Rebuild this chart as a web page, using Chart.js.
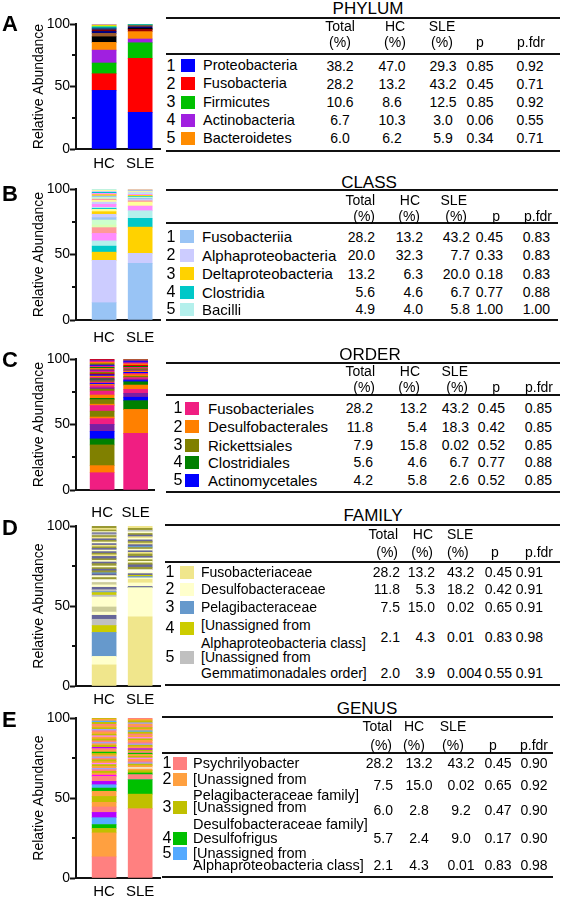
<!DOCTYPE html>
<html><head><meta charset="utf-8">
<script src="https://cdn.jsdelivr.net/npm/chart.js@4.4.1/dist/chart.umd.min.js"></script>
<style>
html,body{margin:0;padding:0;background:#fff;}
body{width:563px;height:900px;position:relative;overflow:hidden;font-family:"Liberation Sans",Arial,Helvetica,sans-serif;color:#000;}
.t{position:absolute;white-space:nowrap;line-height:1;}
.hl{position:absolute;height:2px;background:#111;}
.sq{position:absolute;width:14px;height:13px;}
canvas{position:absolute;left:0;}
</style></head><body>
<script>
// ---------------- DATA ----------------
const groups = ["HC", "SLE"];
const yTicks = [0, 25, 50, 75, 100];
const yMajorTicks = [0, 50, 100];
const minorTickValues = [25, 75];
const panelLetters = ["A", "B", "C", "D", "E"];
const levelTitles = ["PHYLUM", "CLASS", "ORDER", "FAMILY", "GENUS"];
const headRow1 = ["Total", "HC", "SLE", "", ""];
const headRow2 = ["(%)", "(%)", "(%)", "p", "p.fdr"];

// A - phylum
const phylumNames = ["Proteobacteria", "Fusobacteria", "Firmicutes", "Actinobacteria", "Bacteroidetes"];
const phylumTotal = ["38.2", "28.2", "10.6", "6.7", "6.0"];
const phylumHC = ["47.0", "13.2", "8.6", "10.3", "6.2"];
const phylumSLE = ["29.3", "43.2", "12.5", "3.0", "5.9"];
const phylumP = ["0.85", "0.45", "0.85", "0.06", "0.34"];
const phylumPfdr = ["0.92", "0.71", "0.92", "0.55", "0.71"];
const phylumColors = ["#0000ff", "#ff0000", "#00c000", "#a020e0", "#ff8c00"];
const phylumOtherHC = [4.5, 2.7, 1.6, 1.2, 1.0, 0.8, 0.6, 0.6, 0.6, 0.5, 0.6];
const phylumOtherHCColors = ["#000000", "#9c5a28", "#00007f", "#7f0000", "#1e3c8c", "#008080", "#00bfff", "#7fff00", "#ffd700", "#ff69b4", "#90ee90"];
const phylumOtherSLE = [1.8, 0.8, 1.2, 1.0, 0.5, 0.3, 0.3, 0.2];
const phylumOtherSLEColors = ["#990000", "#000000", "#00007f", "#9c5a28", "#008080", "#00bfff", "#7fff00", "#ffd700"];

// B - class
const classNames = ["Fusobacteriia", "Alphaproteobacteria", "Deltaproteobacteria", "Clostridia", "Bacilli"];
const classTotal = ["28.2", "20.0", "13.2", "5.6", "4.9"];
const classHC = ["13.2", "32.3", "6.3", "4.6", "4.0"];
const classSLE = ["43.2", "7.7", "20.0", "6.7", "5.8"];
const classP = ["0.45", "0.33", "0.18", "0.77", "1.00"];
const classPfdr = ["0.83", "0.83", "0.83", "0.88", "1.00"];
const classColors = ["#99c4f5", "#ccccff", "#ffd200", "#00c8c8", "#b4f0ec"];
const classOtherHC = [5.7, 4.4, 2.0, 3.8, 1.8, 2.6, 2.0, 1.8, 0.7, 0.8, 2.3, 1.7, 1.3, 1.0, 1.2, 1.2, 1.0, 1.0, 0.8, 0.8, 0.8, 0.8];
const classOtherHCColors = ["#ff8cff", "#ff9999", "#d9ffb3", "#ccffcc", "#99c4f5", "#ccccff", "#ffd200", "#ffff99", "#00c8c8", "#b4f0ec", "#ff8cff", "#ccccff", "#ffff99", "#ff9999", "#ccffcc", "#99c4f5", "#ffd200", "#ff8cff", "#00c8c8", "#ccccff", "#ffff99", "#b4f0ec"];
const classOtherSLE = [3.6, 3.0, 1.0, 1.0, 1.0, 0.8, 0.5, 0.8, 0.8, 0.7, 0.7, 0.8, 0.7, 0.6, 0.6];
const classOtherSLEColors = ["#ff8cff", "#ffff99", "#ff9999", "#ccccff", "#99c4f5", "#ccffcc", "#00c8c8", "#ffd200", "#ff8cff", "#b4f0ec", "#ccccff", "#ffff99", "#99c4f5", "#ff9999", "#ccffcc"];

// C - order
const orderNames = ["Fusobacteriales", "Desulfobacterales", "Rickettsiales", "Clostridiales", "Actinomycetales"];
const orderTotal = ["28.2", "11.8", "7.9", "5.6", "4.2"];
const orderHC = ["13.2", "5.4", "15.8", "4.6", "5.8"];
const orderSLE = ["43.2", "18.3", "0.02", "6.7", "2.6"];
const orderP = ["0.45", "0.42", "0.52", "0.77", "0.52"];
const orderPfdr = ["0.85", "0.85", "0.85", "0.88", "0.85"];
const orderColors = ["#f01e82", "#ff8000", "#808000", "#008000", "#0000ff"];
const orderOtherHC = [5.3, 4.4, 1.2, 4.5, 4.3, 1.0, 3.5, 1.0, 2.5, 3.0, 1.5, 1.0, 1.6, 1.0, 0.8, 1.0, 1.0, 0.8, 0.8, 1.0, 1.0, 1.0, 0.8, 1.0, 1.0, 1.0, 1.0, 0.8, 1.0, 0.8, 1.0, 1.0, 1.0, 0.8, 0.8];
const orderOtherHCColors = ["#7a1fa2", "#f01e82", "#ff8000", "#808000", "#f01e82", "#ff8000", "#808000", "#008000", "#ff8000", "#f01e82", "#808000", "#7a1fa2", "#f01e82", "#ff8000", "#0000ff", "#f01e82", "#808000", "#7a1fa2", "#008000", "#f01e82", "#ff8000", "#0000ff", "#e00000", "#808000", "#f01e82", "#7a1fa2", "#ff8000", "#008000", "#f01e82", "#0000ff", "#808000", "#ff8000", "#f01e82", "#7a1fa2", "#e00000"];
const orderOtherSLE = [3.0, 3.0, 3.3, 2.5, 1.0, 1.0, 1.2, 1.0, 1.2, 1.0, 0.8, 1.0, 0.8, 1.0, 1.0, 0.8, 0.8, 1.0, 1.0, 0.8, 0.8, 0.6, 0.6];
const orderOtherSLEColors = ["#7a1fa2", "#f01e82", "#ff8000", "#008000", "#0000ff", "#7a1fa2", "#f01e82", "#808000", "#ff8000", "#f01e82", "#0000ff", "#ff8000", "#7a1fa2", "#808000", "#f01e82", "#008000", "#e00000", "#ff8000", "#f01e82", "#0000ff", "#7a1fa2", "#808000", "#f01e82"];

// D - family
const familyNames = ["Fusobacteriaceae", "Desulfobacteraceae", "Pelagibacteraceae", "[Unassigned from|Alphaproteobacteria class]", "[Unassigned from|Gemmatimonadales order]"];
const familyTotal = ["28.2", "11.8", "7.5", "2.1", "2.0"];
const familyHC = ["13.2", "5.3", "15.0", "4.3", "3.9"];
const familySLE = ["43.2", "18.2", "0.02", "0.01", "0.004"];
const familyP = ["0.45", "0.42", "0.65", "0.83", "0.55"];
const familyPfdr = ["0.91", "0.91", "0.91", "0.98", "0.91"];
const familyColors = ["#f0e68c", "#ffffcc", "#6699cc", "#cccc00", "#c0c0c0"];
const familyOtherHC = [2.5, 2.0, 3.2, 6.2, 1.2, 1.6, 0.6, 1.2, 1.5, 1.5, 1.5, 1.8, 1.3, 1.2, 1.0, 0.8, 1.2, 1.0, 1.0, 1.0, 1.5, 1.0, 1.0, 1.0, 1.5, 1.0, 1.0, 1.0, 1.0, 1.0, 1.0, 1.0, 1.0, 1.0, 1.0, 1.0, 1.0, 1.0, 1.0, 0.8, 0.7, 1.0, 1.0, 1.5];
const familyOtherHCColors = ["#666699", "#ffffcc", "#cccc99", "#ffffcc", "#c0c0c0", "#cccc00", "#6699cc", "#c0c0c0", "#666699", "#ffffcc", "#cccc99", "#fdfdf0", "#999933", "#ffffcc", "#666699", "#6699cc", "#999933", "#666699", "#999933", "#ffffcc", "#999933", "#666699", "#ffffcc", "#999933", "#666699", "#f0e68c", "#999933", "#666699", "#ffffcc", "#666699", "#999933", "#f0e68c", "#666699", "#ffffcc", "#999933", "#666699", "#f0e68c", "#999933", "#c0c0c0", "#666699", "#ffffcc", "#999933", "#f0e68c", "#999933"];
const familyOtherSLE = [0.8, 2.2, 2.2, 1.0, 0.8, 0.8, 1.0, 1.0, 1.5, 1.5, 1.5, 1.2, 1.0, 1.0, 1.1, 1.0, 1.5, 1.0, 1.0, 1.0, 1.0, 0.8, 1.0, 1.0, 1.0, 1.0, 1.0, 1.0, 1.0, 1.0, 1.0, 1.0, 1.2, 1.5];
const familyOtherSLEColors = ["#666699", "#ffffcc", "#f0e68c", "#ffffcc", "#6699cc", "#cccc00", "#666699", "#ffffcc", "#fdfdf0", "#999933", "#666699", "#999933", "#ffffcc", "#999933", "#ffffcc", "#666699", "#999933", "#f0e68c", "#666699", "#ffffcc", "#999933", "#6699cc", "#666699", "#f0e68c", "#999933", "#666699", "#ffffcc", "#f0e68c", "#666699", "#999933", "#ffffcc", "#c0c0c0", "#999933", "#f0e68c"];

// E - genus
const genusNames = ["Psychrilyobacter", "[Unassigned from|Pelagibacteraceae family]", "[Unassigned from|Desulfobacteraceae family]", "Desulfofrigus", "[Unassigned from|Alphaproteobacteria class]"];
const genusTotal = ["28.2", "7.5", "6.0", "5.7", "2.1"];
const genusHC = ["13.2", "15.0", "2.8", "2.4", "4.3"];
const genusSLE = ["43.2", "0.02", "9.2", "9.0", "0.01"];
const genusP = ["0.45", "0.65", "0.47", "0.17", "0.83"];
const genusPfdr = ["0.90", "0.92", "0.90", "0.90", "0.98"];
const genusColors = ["#ff8080", "#ffa040", "#c0c000", "#00c000", "#55aaff"];
const genusOtherHC = [3.3, 3.4, 2.9, 3.7, 3.2, 2.0, 2.1, 2.1, 3.1, 0.8, 1.2, 1.2, 1.0, 0.8, 1.2, 1.2, 0.8, 1.0, 1.2, 1.0, 0.8, 1.2, 1.0, 0.8, 1.2, 1.0, 0.8, 1.2, 1.0, 0.8, 1.0, 1.2, 1.2, 0.8, 1.0, 1.2, 1.0, 0.8, 1.0, 1.2, 1.0, 1.2, 0.8, 1.2, 0.7];
const genusOtherHCColors = ["#b400ff", "#ff8080", "#ffa040", "#c0c000", "#ffa040", "#00c000", "#55aaff", "#b400ff", "#ff8080", "#ff00ff", "#ffa040", "#c0c000", "#ff8080", "#9f9fff", "#ffa040", "#c0c000", "#ff80ff", "#ffa040", "#c0c000", "#ff8080", "#9f9fff", "#ffa040", "#c0c000", "#00c000", "#ffa040", "#ff8080", "#b400ff", "#c0c000", "#ffa040", "#9f9fff", "#ff8080", "#c0c000", "#ffa040", "#ff80ff", "#c0c000", "#ffa040", "#ff8080", "#9f9fff", "#c0c000", "#ffa040", "#ff8080", "#c0c000", "#55aaff", "#ffa040", "#c0c000"];
const genusOtherSLE = [3.2, 1.0, 1.5, 1.0, 0.9, 1.2, 1.0, 0.8, 1.0, 1.2, 0.8, 1.0, 1.2, 0.8, 1.0, 1.0, 0.8, 1.2, 1.0, 0.8, 1.0, 1.2, 1.0, 0.8, 1.2, 1.0, 1.2, 0.8, 1.0, 1.0, 1.0, 1.2, 0.8, 1.2, 1.0, 0.8];
const genusOtherSLEColors = ["#ff8080", "#00c000", "#c0c000", "#ffa040", "#f4f0e0", "#ffa040", "#c0c000", "#9f9fff", "#ff8080", "#ffa040", "#ff80ff", "#c0c000", "#ffa040", "#00c000", "#ff8080", "#c0c000", "#b400ff", "#ffa040", "#c0c000", "#9f9fff", "#ff8080", "#ffa040", "#c0c000", "#ff80ff", "#ffa040", "#ff8080", "#c0c000", "#55aaff", "#ffa040", "#c0c000", "#ff8080", "#ffa040", "#9f9fff", "#c0c000", "#ffa040", "#ff8080"];

// ---------------- ASSEMBLY ----------------
const panels = [
  {names: phylumNames, total: phylumTotal, hc: phylumHC, sle: phylumSLE, p: phylumP, pfdr: phylumPfdr, colors: phylumColors, oHC: phylumOtherHC, oHCc: phylumOtherHCColors, oSLE: phylumOtherSLE, oSLEc: phylumOtherSLEColors},
  {names: classNames, total: classTotal, hc: classHC, sle: classSLE, p: classP, pfdr: classPfdr, colors: classColors, oHC: classOtherHC, oHCc: classOtherHCColors, oSLE: classOtherSLE, oSLEc: classOtherSLEColors},
  {names: orderNames, total: orderTotal, hc: orderHC, sle: orderSLE, p: orderP, pfdr: orderPfdr, colors: orderColors, oHC: orderOtherHC, oHCc: orderOtherHCColors, oSLE: orderOtherSLE, oSLEc: orderOtherSLEColors},
  {names: familyNames, total: familyTotal, hc: familyHC, sle: familySLE, p: familyP, pfdr: familyPfdr, colors: familyColors, oHC: familyOtherHC, oHCc: familyOtherHCColors, oSLE: familyOtherSLE, oSLEc: familyOtherSLEColors},
  {names: genusNames, total: genusTotal, hc: genusHC, sle: genusSLE, p: genusP, pfdr: genusPfdr, colors: genusColors, oHC: genusOtherHC, oHCc: genusOtherHCColors, oSLE: genusOtherSLE, oSLEc: genusOtherSLEColors}
];

// layout (positions only)
const C = (hx, ha, vx, va) => ({hx, ha, vx, va});
const layouts = [
  {letterY: 24, y100: 24, y0: 149, xPad: 6, xH: 30, lx0: 166, lx1: 560, titleX: 368, titleY: 8.5, lines: [18, 53.5, 151], h1: 26, h2: 41.5, numX: 171, sqX: 181, nameX: 203, nameSize: 14.5,
   rows: [{n: [65.5]}, {n: [83.5]}, {n: [102]}, {n: [120]}, {n: [138]}],
   cols: [C(340, 'center', 340, 'center'), C(395, 'center', 392, 'center'), C(442, 'center', 443, 'center'), C(480, 'center', 480, 'center'), C(531, 'center', 530, 'center')]},
  {letterY: 194, y100: 189, y0: 320, xPad: 9, xH: 30, lx0: 166, lx1: 558, titleX: 369, titleY: 182, lines: [190, 223.3, 320], h1: 200, h2: 215.7, numX: 171, sqX: 180, nameX: 202, nameSize: 15,
   rows: [{n: [236.5]}, {n: [255]}, {n: [273.5]}, {n: [292]}, {n: [309]}],
   cols: [C(375, 'right', 375, 'right'), C(420, 'right', 423, 'right'), C(467, 'right', 470, 'right'), C(500, 'right', 503, 'right'), C(552, 'right', 550, 'right')]},
  {letterY: 360, y100: 359, y0: 490, xPad: 14, xH: 30, lx0: 166, lx1: 560, titleX: 370, titleY: 354, lines: [362.7, 395, 491.7], h1: 371, h2: 387, numX: 178, sqX: 185, nameX: 208, nameSize: 15,
   rows: [{n: [408]}, {n: [426.5]}, {n: [445]}, {n: [462]}, {n: [480]}],
   cols: [C(375, 'right', 373, 'right'), C(420, 'right', 427, 'right'), C(468, 'right', 469, 'right'), C(500, 'right', 505, 'right'), C(553, 'right', 552, 'right')]},
  {letterY: 528, y100: 526, y0: 686, xPad: 5, xH: 30, lx0: 165, lx1: 560, titleX: 373, titleY: 515, lines: [525, 561.7, 685], h1: 534, h2: 552, numX: 170, sqX: 180, nameX: 201, nameSize: 14,
   rows: [{n: [572]}, {n: [589]}, {n: [607]}, {n: [625, 643], v: 637, s: 628}, {n: [657, 673], v: 673}],
   cols: [C(398, 'right', 400, 'right'), C(433, 'right', 435, 'right'), C(447, 'left', 447, 'left'), C(495, 'center', 512, 'right'), C(539, 'center', 543, 'right')]},
  {letterY: 720, y100: 718, y0: 878, xPad: 5, xH: 22, lx0: 162, lx1: 553, titleX: 367, titleY: 708, lines: [717, 753, 876.5], h1: 726, h2: 745, numX: 167, sqX: 173, nameX: 193, nameSize: 14.5,
   rows: [{n: [763]}, {n: [779, 795], v: 785}, {n: [807, 824], v: 810}, {n: [838]}, {n: [853, 865], v: 865}],
   cols: [C(392, 'right', 393, 'right'), C(414, 'center', 419, 'center'), C(453, 'center', 461, 'center'), C(493, 'center', 498, 'center'), C(534, 'center', 534, 'center')]}
];

function addText(s, x, y, size, align, weight) {
  const d = document.createElement('div');
  d.className = 't';
  d.textContent = s;
  d.style.fontSize = size + 'px';
  if (weight) d.style.fontWeight = weight;
  d.style.top = (y - 0.49 * size) + 'px';
  d.style.left = x + 'px';
  if (align === 'center') d.style.transform = 'translateX(-50%)';
  else if (align === 'right') d.style.transform = 'translateX(-100%)';
  document.body.appendChild(d);
}
function addLine(x0, x1, y) {
  const d = document.createElement('div');
  d.className = 'hl';
  d.style.left = x0 + 'px'; d.style.width = (x1 - x0) + 'px'; d.style.top = (y - 1) + 'px';
  document.body.appendChild(d);
}

const FONT = '"Liberation Sans", Arial, sans-serif';
const minorTickPlugin = {
  id: 'minorTicks',
  afterDraw(chart) {
    const ys = chart.scales.y, ctx = chart.ctx;
    ctx.save(); ctx.strokeStyle = '#111'; ctx.lineWidth = 2;
    minorTickValues.forEach(v => {
      const py = Math.round(ys.getPixelForValue(v));
      ctx.beginPath(); ctx.moveTo(ys.right - 4, py); ctx.lineTo(ys.right, py); ctx.stroke();
    });
    ctx.restore();
  }
};

function buildChart(pd, lay) {
  const c = document.createElement('canvas');
  const top = lay.y100 - 12;
  const h = lay.y0 - top + lay.xH;
  c.width = 165; c.height = h;
  c.style.top = top + 'px'; c.style.width = '165px'; c.style.height = h + 'px';
  document.body.appendChild(c);
  const hcVals = pd.hc.map(Number).concat(pd.oHC);
  const hcCols = pd.colors.concat(pd.oHCc);
  const sleVals = pd.sle.map(Number).concat(pd.oSLE);
  const sleCols = pd.colors.concat(pd.oSLEc);
  const n = Math.max(hcVals.length, sleVals.length);
  const datasets = [];
  for (let i = 0; i < n; i++) {
    datasets.push({
      data: [{x: 0, y: hcVals[i] || 0}, {x: 1, y: sleVals[i] || 0}],
      backgroundColor: [hcCols[i] || '#ffffff', sleCols[i] || '#ffffff'],
      borderWidth: 0, barThickness: 24
    });
  }
  new Chart(c, {
    type: 'bar',
    data: {datasets},
    plugins: [minorTickPlugin],
    options: {
      responsive: false, animation: false, devicePixelRatio: 1,
      layout: {padding: {top: 12, right: 5, bottom: 0, left: 0}},
      plugins: {legend: {display: false}, tooltip: {enabled: false}},
      scales: {
        x: {
          type: 'linear', stacked: true, min: -0.78, max: 1.55, offset: false,
          grid: {display: false, drawTicks: false, offset: false},
          border: {display: true, color: '#111', width: 2},
          afterBuildTicks: (s) => { s.ticks = groups.map((g, i) => ({value: i})); },
          afterFit: (s) => { s.height = lay.xH; },
          ticks: {autoSkip: false, maxRotation: 0, padding: lay.xPad, color: '#000', font: {family: FONT, size: 15}, callback: (v) => groups[v]}
        },
        y: {
          stacked: true, min: 0, max: 100,
          afterFit: (s) => { s.width = 76; },
          afterBuildTicks: (s) => { s.ticks = yTicks.map(v => ({value: v})); },
          ticks: {padding: 0, color: '#000', font: {family: FONT, size: 14}, autoSkip: false, callback: (v) => yMajorTicks.includes(v) ? String(v) : ''},
          grid: {display: true, drawOnChartArea: false, drawTicks: true, tickLength: 6, tickWidth: 2,
                 tickColor: (ctx) => (ctx.tick && !yMajorTicks.includes(ctx.tick.value)) ? 'rgba(0,0,0,0)' : '#111'},
          border: {display: true, color: '#111', width: 2},
          title: {display: true, text: 'Relative Abundance', color: '#000', font: {family: FONT, size: 14}, padding: {top: 31, bottom: 0}}
        }
      }
    }
  });
}

function buildTable(pd, lay, idx) {
  addText(panelLetters[idx], 2, lay.letterY, 22, 'left', 'bold');
  addText(levelTitles[idx], lay.titleX, lay.titleY, 17, 'center');
  lay.lines.forEach(y => addLine(lay.lx0, lay.lx1, y));
  lay.cols.forEach((col, j) => {
    if (headRow1[j]) addText(headRow1[j], col.hx, lay.h1, 14, col.ha);
    addText(headRow2[j], col.hx, lay.h2, 14, col.ha);
  });
  const valCols = [pd.total, pd.hc, pd.sle, pd.p, pd.pfdr];
  lay.rows.forEach((r, i) => {
    const sy = r.s !== undefined ? r.s : r.n[0];
    const vy = r.v !== undefined ? r.v : r.n[0];
    addText(String(i + 1), lay.numX, sy, 16, 'center');
    const sq = document.createElement('div');
    sq.className = 'sq';
    sq.style.left = lay.sqX + 'px'; sq.style.top = (sy - 6.5) + 'px';
    sq.style.background = pd.colors[i];
    document.body.appendChild(sq);
    pd.names[i].split('|').forEach((ln, k) => addText(ln, lay.nameX, r.n[k], lay.nameSize, 'left'));
    lay.cols.forEach((col, j) => addText(valCols[j][i], col.vx, vy, 14, col.va));
  });
}

panels.forEach((pd, i) => { buildChart(pd, layouts[i]); buildTable(pd, layouts[i], i); });
</script>
</body></html>
